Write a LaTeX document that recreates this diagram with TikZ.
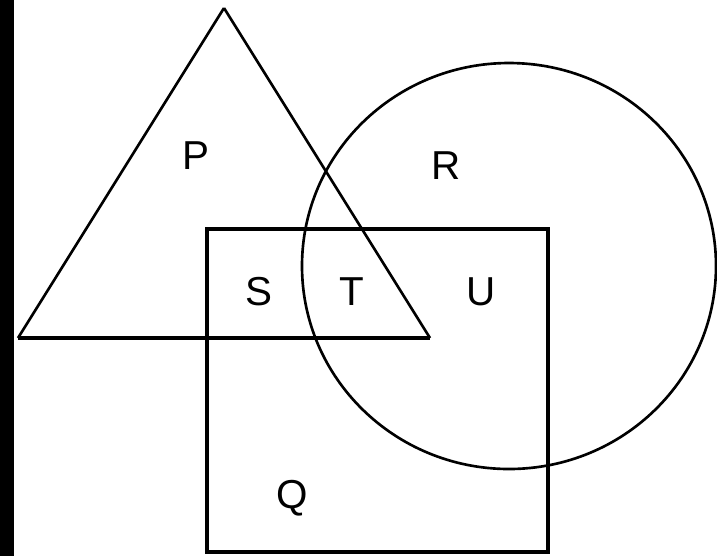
\documentclass[tikz,border=0pt]{standalone}
\usepackage{fontspec}
\setmainfont{Liberation Sans}
\usetikzlibrary{positioning}

\begin{document}
\begin{tikzpicture}[
    x=0.02cm, y=-0.02cm,
    outline/.style={draw=black, line width=1.5pt},
    boxline/.style={draw=black, line width=1.8pt},
    region/.style={font=\fontsize{23}{23}\selectfont, inner sep=0pt},
]

% Frame
\useasboundingbox (0,0) rectangle (717,556);
\fill[black] (0,0) rectangle (14,556);

% Triangle P
\coordinate (apex) at (224,8);
\coordinate (tl) at (18,338);
\coordinate (tr) at (430,338);
\draw[outline] (apex) -- (tl);
\draw[outline] (apex) -- (tr);
\draw[boxline] (tl) -- (tr);

% Square Q
\coordinate (qa) at (207,229);
\coordinate (qb) at (548,552);
\draw[boxline] (qa) rectangle (qb);

% Circle R
\coordinate (rc) at (509,266);
\draw[outline] (rc) ellipse [x radius=207, y radius=203];

% Labels
\node[region] (p) at (196,156) {P};
\node[region] (r) at (446,166) {R};
\node[region] (s) at (259,292) {S};
\node[region] (t) at (352,292) {T};
\node[region] (u) at (481,292) {U};
\node[region] (q) at (292,498) {Q};

\end{tikzpicture}
\end{document}
